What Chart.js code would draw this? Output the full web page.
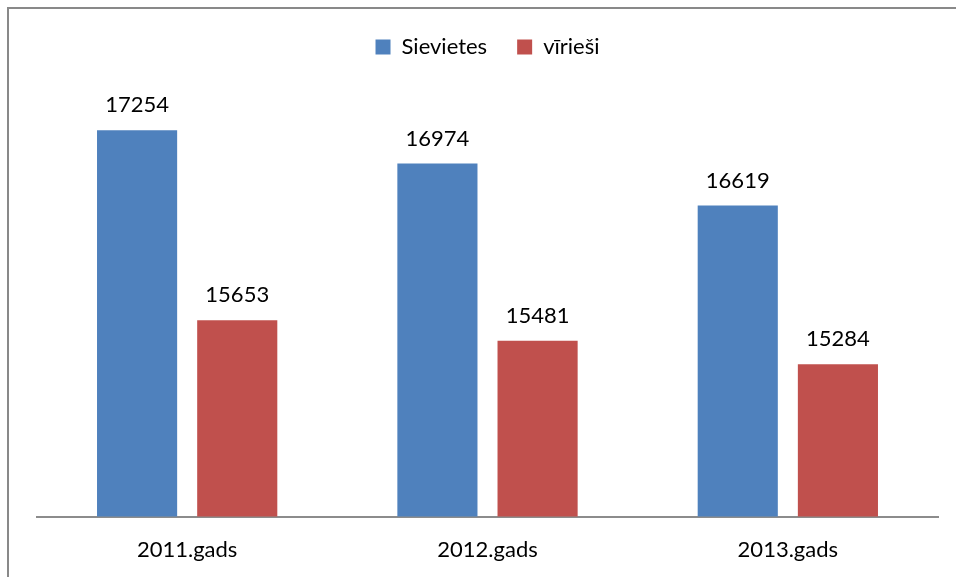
<!DOCTYPE html>
<html>
<head>
<meta charset="utf-8">
<script src="https://cdn.jsdelivr.net/npm/chart.js@4"></script>
<style>
    html, body { margin: 0; padding: 0; background: #fff; }
    #wrap { position: relative; width: 956px; height: 577px; }
</style>
</head>
<body>
<div id="wrap"><canvas id="dzimumsChart" width="956" height="577"></canvas></div>
<script>
const gadi = ['2011.gads', '2012.gads', '2013.gads']
const sievietes = [17254, 16974, 16619]
const virIesi = [15653, 15481, 15284]

const fontFamily = 'Lato, "Open Sans", sans-serif'

// frame lines at top and left, like the original sheet object
const framePlugin = {
    id: 'frame',
    beforeDraw(chart) {
        const ctx = chart.ctx
        ctx.save()
        ctx.strokeStyle = '#898989'
        ctx.lineWidth = 2
        ctx.beginPath()
        ctx.moveTo(8, chart.height)
        ctx.lineTo(8, 8)
        ctx.lineTo(chart.width, 8)
        ctx.stroke()
        ctx.restore()
    }
}

// value labels above every bar
const valueLabels = {
    id: 'valueLabels',
    afterDatasetsDraw(chart) {
        const ctx = chart.ctx
        ctx.save()
        ctx.font = '22px ' + fontFamily
        ctx.fillStyle = '#000'
        ctx.textAlign = 'center'
        ctx.textBaseline = 'middle'
        chart.data.datasets.forEach((ds, i) => {
            chart.getDatasetMeta(i).data.forEach((bar, j) => {
                ctx.fillText(String(ds.data[j]), bar.x, bar.y - 25)
            })
        })
        ctx.restore()
    }
}

// extra room under the legend, the plot starts lower than the legend row
const legendSpace = {
    id: 'legendSpace',
    beforeInit(chart) {
        const fit = chart.legend.fit
        chart.legend.fit = function () {
            fit.call(this)
            this.height = 95
        }
    }
}

new Chart(document.getElementById('dzimumsChart'), {
    type: 'bar',

    data: {
        labels: gadi,

        datasets: [
            {
                label: 'Sievietes',
                data: sievietes,
                backgroundColor: '#4F81BD',
                borderWidth: 0
            },
            {
                label: 'vīrieši',
                data: virIesi,
                backgroundColor: '#C0504D',
                borderWidth: 0
            }
        ]
    },

    options: {
        responsive: false,
        animation: false,
        categoryPercentage: 0.667,
        barPercentage: 0.8,

        layout: {
            padding: { left: 37, right: 18, top: 6, bottom: -6 }
        },

        plugins: {
            legend: {
                position: 'top',
                labels: {
                    boxWidth: 15,
                    boxHeight: 15,
                    padding: 30,
                    color: '#000',
                    font: { family: fontFamily, size: 22 }
                }
            },
            tooltip: { enabled: false }
        },

        scales: {
            x: {
                grid: { display: false, drawTicks: false },
                border: { display: true, color: '#8c8c8c', width: 2 },
                ticks: {
                    color: '#000',
                    padding: 20,
                    font: { family: fontFamily, size: 22 }
                }
            },
            y: {
                display: false,
                min: 14000,
                max: 17500
            }
        }
    },

    plugins: [framePlugin, valueLabels, legendSpace]
})
</script>
</body>
</html>
